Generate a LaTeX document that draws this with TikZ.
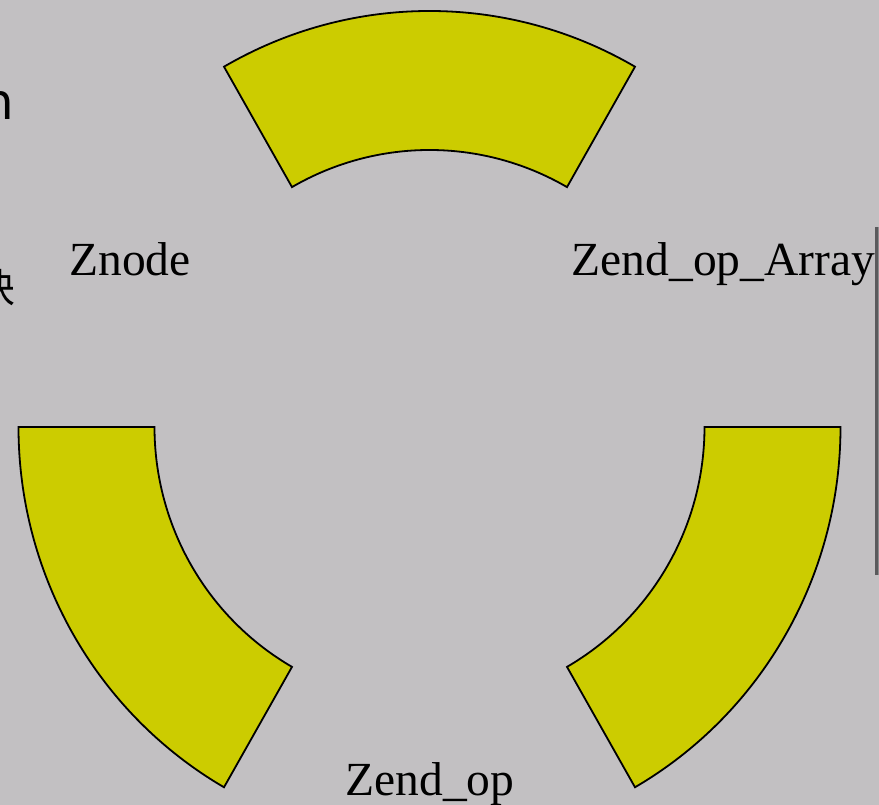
\documentclass[tikz,border=0pt]{standalone}
\usepackage{fontspec}
\setmainfont{Liberation Serif}
\newfontfamily\cjkfont{Noto Sans CJK SC}
\newfontfamily\sansfont{DejaVu Sans}
\usetikzlibrary{calc}
\definecolor{bgcol}{RGB}{194,192,194}
\definecolor{segcol}{RGB}{204,204,0}
\definecolor{edgedark}{RGB}{90,90,92}
\definecolor{edgemid}{RGB}{140,140,142}
\tikzset{
  segment/.style={fill=segcol, draw=black, line width=1.8pt, line join=miter},
  lbl/.style={anchor=base, inner sep=0pt, font=\fontsize{47.5}{50}\selectfont},
  cliptext/.style={inner sep=0pt, text=black}
}
\begin{document}
\begin{tikzpicture}[x=1pt,y=1pt]
\useasboundingbox (0,0) rectangle (879,805);
\fill[bgcol] (0,0) rectangle (879,805);
\clip (0,0) rectangle (879,805);
\coordinate (c) at (429.5,378);
% top sector
\draw[segment] ($(c)+(60:411 and 416)$) arc[start angle=60,end angle=120,x radius=411,y radius=416]
  -- ($(c)+(120:275 and 277)$) arc[start angle=120,end angle=60,x radius=275,y radius=277] -- cycle;
% left sector
\draw[segment] ($(c)+(180:411 and 416)$) arc[start angle=180,end angle=240,x radius=411,y radius=416]
  -- ($(c)+(240:275 and 277)$) arc[start angle=240,end angle=180,x radius=275,y radius=277] -- cycle;
% right sector
\draw[segment] ($(c)+(300:411 and 416)$) arc[start angle=300,end angle=360,x radius=411,y radius=416]
  -- ($(c)+(360:275 and 277)$) arc[start angle=360,end angle=300,x radius=275,y radius=277] -- cycle;
% labels
\node[lbl] (znode) at (130,529) {Znode};
\node[lbl] (zarray) at (723.5,529) {Zend\_op\_Array};
\node[lbl] (zop) at (430,9) {Zend\_op};
% clipped text at left edge
\node[cliptext, anchor=base east, font=\sansfont\fontsize{50}{50}\selectfont] (leftn) at (14,685) {n};
\node[cliptext, anchor=base east, font=\cjkfont\fontsize{40}{40}\selectfont] (leftk) at (16,502) {块};
% right edge bar
\fill[edgedark] (874.5,230) rectangle (877.5,578);
\fill[edgemid] (877.5,230) rectangle (879,578);
\end{tikzpicture}
\end{document}
